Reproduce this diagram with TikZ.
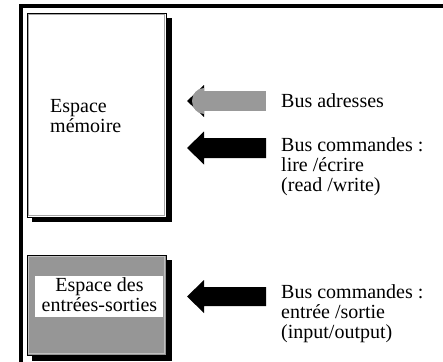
\documentclass[tikz,border=0pt]{standalone}
\usepackage{fontspec}
\setmainfont{Liberation Serif}
\usetikzlibrary{calc}

\tikzset{
  txt/.style={inner sep=0pt,align=left,anchor=base west,font=\fontsize{20}{20}\selectfont},
  shadow/.style={fill=black},
  boxline/.style={draw=black,line width=0.9pt},
  innerline/.style={draw=gray!70,line width=0.8pt}
}

\begin{document}
\begin{tikzpicture}[x=1pt,y=-1pt]
  \useasboundingbox (0,0) rectangle (443,361);
  \draw[line width=4pt]
    (21,363) -- (21,6.5) -- (445,6.5);

  \fill[shadow] (32,18) rectangle (172,222);
  \draw[boxline,fill=white] (27,13) rectangle (166,217);
  \draw[innerline] (28.8,14.8) rectangle (164.2,215.2);
  \node[txt] (mem) at (50,132) {Espace\\mémoire};

  \fill[shadow] (32,260) rectangle (172,361);
  \draw[boxline,fill=gray!82] (27,255) rectangle (166,355);
  \draw[draw=gray!50,line width=0.8pt] (28.8,256.8) rectangle (164.2,353.2);
  \fill[white] (35,276) rectangle (163,317);
  \node[txt,align=center,anchor=base] (io) at (99.5,311) {Espace des\\entrées-sorties};

  \fill[black] (187,101) -- (204,85) -- (204,117) -- cycle;
  \fill[gray!80] (204,88) arc (90:270:12pt and 13pt) -- cycle;
  \fill[gray!80] (203,91) rectangle (266,111);
  \fill[black] (187,148) -- (204,131.5) -- (204,138) -- (266,138)
    -- (266,158) -- (204,158) -- (204,164.5) -- cycle;
  \fill[black] (187,296.5) -- (204,280) -- (204,287) -- (266,287)
    -- (266,306) -- (204,306) -- (204,313) -- cycle;

  \node[txt] (adr) at (281,107) {Bus adresses};
  \node[txt] (cmd) at (281,191) {Bus commandes :\\lire /écrire\\(read /write)};
  \node[txt] (es) at (281,338) {Bus commandes :\\entrée /sortie\\(input/output)};
\end{tikzpicture}
\end{document}
